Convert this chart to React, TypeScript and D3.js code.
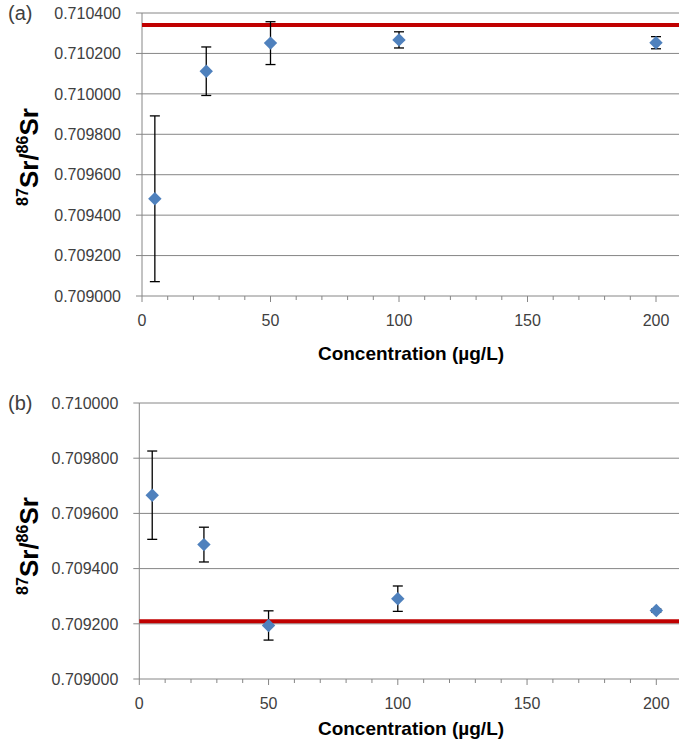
import React from 'react';
import * as d3 from 'd3';

const width = 679;
const height = 743;
const font = '"Liberation Sans", Arial, sans-serif';

// concentrations (µg/L) shared by both panels
const concentrations = [5, 25, 50, 100, 200];
const xTicks = [0, 50, 100, 150, 200];
const xMinorTicks = d3.range(0, 211, 10);

// panel (a)
const ratioA = [0.709481, 0.710112, 0.710251, 0.710267, 0.710253];
const errA = [0.00041, 0.00012, 0.000106, 0.00004, 0.00003];
const refA = 0.710341;
const yTicksA = [0.709, 0.7092, 0.7094, 0.7096, 0.7098, 0.71, 0.7102, 0.7104];

// panel (b)
const ratioB = [0.709666, 0.709487, 0.709194, 0.709291, 0.709248];
const errB = [0.00016, 0.000063, 0.000053, 0.000046, 0.000006];
const refB = 0.709209;
const yTicksB = [0.709, 0.7092, 0.7094, 0.7096, 0.7098, 0.71];

const gridColor = '#868686';
const textColor = '#404040';

const diamond = d3.symbol(d3.symbolSquare, 90)();

const Panel = ({ tag, values, errors, reference, yTicks, left, top, bottom, xSpan, labelY, titleY, yTitleY }) => {
  const x = d3.scaleLinear().domain([0, 210]).range([left, left + xSpan * 210]);
  const y = d3.scaleLinear().domain([yTicks[0], yTicks[yTicks.length - 1]]).range([bottom, top]);

  return (
    <g>
      {/* grid + y ticks */}
      {yTicks.map((t, i) => (
        <g key={i}>
          <line x1={left} x2={width} y1={y(t)} y2={y(t)} stroke={gridColor} strokeWidth={1} />
          <line x1={left - 6} x2={left} y1={y(t)} y2={y(t)} stroke={gridColor} strokeWidth={1} />
          <text x={left - 21} y={y(t)} dy="0.36em" textAnchor="end" fontSize={16} fill={textColor}>
            {t.toFixed(6)}
          </text>
        </g>
      ))}
      <line x1={left} x2={left} y1={top} y2={bottom} stroke={gridColor} strokeWidth={1} />

      {/* x ticks */}
      {xMinorTicks.map((t, i) => (
        <line key={i} x1={x(t)} x2={x(t)} y1={bottom} y2={bottom + (t % 50 === 0 ? 6 : 4)} stroke={gridColor} strokeWidth={1} />
      ))}
      {xTicks.map((t, i) => (
        <text key={i} x={x(t)} y={labelY} dy="0.36em" textAnchor="middle" fontSize={16} fill={textColor}>
          {t}
        </text>
      ))}

      {/* reference line */}
      <line x1={left} x2={width} y1={y(reference)} y2={y(reference)} stroke="#c00000" strokeWidth={4} />

      {/* error bars */}
      {values.map((v, i) => {
        const cx = x(concentrations[i]);
        const y1 = y(v + errors[i]);
        const y2 = y(v - errors[i]);
        return (
          <g key={i} stroke="#000" strokeWidth={1.3}>
            <line x1={cx} x2={cx} y1={y1} y2={y2} />
            <line x1={cx - 5} x2={cx + 5} y1={y1} y2={y1} />
            <line x1={cx - 5} x2={cx + 5} y1={y2} y2={y2} />
          </g>
        );
      })}

      {/* points */}
      {values.map((v, i) => (
        <path
          key={i}
          d={diamond}
          transform={`translate(${x(concentrations[i])},${y(v)}) rotate(45)`}
          fill="#4f81bd"
        />
      ))}

      {/* titles */}
      <text x={411} y={titleY} dy="0.36em" textAnchor="middle" fontSize={19} fontWeight="bold" fill="#000">
        Concentration (µg/L)
      </text>
      <text transform={`translate(38,${yTitleY}) rotate(-90)`} textAnchor="middle" fontWeight="bold" fill="#000">
        <tspan fontSize={16} dy={-10}>87</tspan>
        <tspan fontSize={26} dy={10}>Sr/</tspan>
        <tspan fontSize={16} dy={-10}>86</tspan>
        <tspan fontSize={26} dy={10}>Sr</tspan>
      </text>
      <text x={8} y={top} dy="0.36em" fontSize={20} fill={textColor}>
        {tag}
      </text>
    </g>
  );
};

export default function App() {
  return (
    <svg
      width={width}
      height={height}
      style={{ position: 'absolute', left: 0, top: 0, background: '#fff' }}
      fontFamily={font}
    >
      <Panel
        tag="(a)"
        values={ratioA}
        errors={errA}
        reference={refA}
        yTicks={yTicksA}
        left={142}
        top={13}
        bottom={296}
        xSpan={2.57}
        labelY={320}
        titleY={353}
        yTitleY={157}
      />
      <Panel
        tag="(b)"
        values={ratioB}
        errors={errB}
        reference={refB}
        yTicks={yTicksB}
        left={139.3}
        top={403}
        bottom={679}
        xSpan={2.585}
        labelY={703}
        titleY={728}
        yTitleY={546}
      />
    </svg>
  );
}
